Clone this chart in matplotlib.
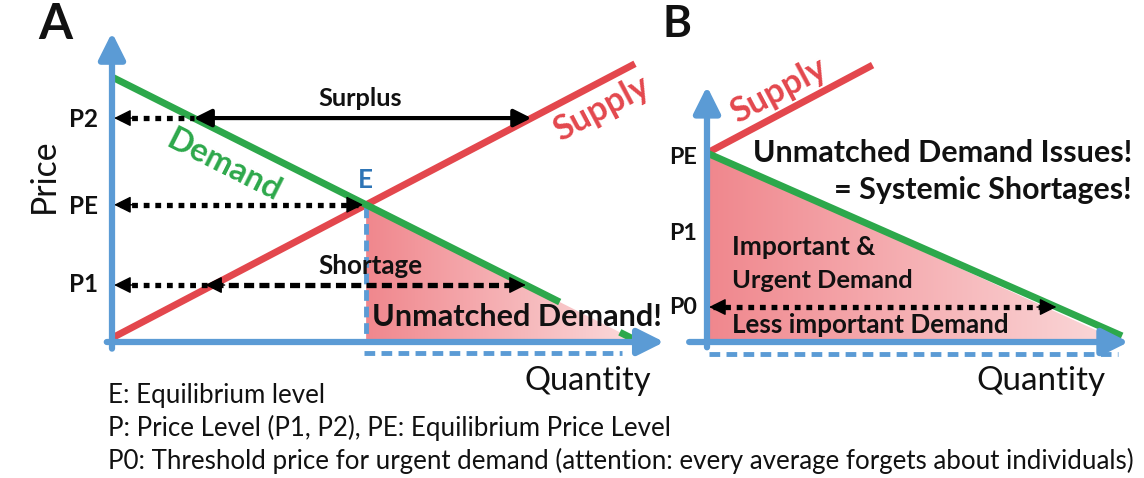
import matplotlib
matplotlib.use('Agg')
import matplotlib.pyplot as plt
import numpy as np
from matplotlib.patches import Polygon
from matplotlib.colors import LinearSegmentedColormap

# ---------------- data (conceptual units: quantity 0..100, price) ----------------
A_demand_q = [0, 100]
A_demand_p = [100, 0.8]
A_supply_q = [0, 100]
A_supply_p = [1.5, 105]
A_price_levels = {"P2": 84.5, "P1": 21.5}

B_demand_q = [0, 100]
B_demand_p = [71.3, 2.3]
B_supply_q = [0, 39.9]
B_supply_p = [71.3, 104.5]
B_price_levels = {"PE": 71.3, "P1": 41.1, "P0": 13.2}

notes = ["E: Equilibrium level",
         "P: Price Level (P1, P2), PE: Equilibrium Price Level",
         "P0: Threshold price for urgent demand (attention: every average forgets about individuals)"]

# ---------------- style ----------------
W, H = 1144, 478
BLUE = '#5B9BD5'
EBLUE = '#2E75B6'
GREEN = '#2DA84B'
RED = '#E3474D'
INK = '#111111'
PINK1, PINK2 = '#F0878D', '#FBDADB'
FONT = 'Lato'
plt.rcParams['font.family'] = [FONT, 'DejaVu Sans']

fig = plt.figure(figsize=(W / 100, H / 100), dpi=100)
renderer = fig.canvas.get_renderer()


def panel_ax(x0, y0, sx, sy):
    ax = fig.add_axes([0, 0, 1, 1])
    ax.axis('off')
    ax.set_autoscale_on(False)
    ax.set_xlim(-x0 / sx, (W - x0) / sx)
    ax.set_ylim(-(H - y0) / sy, y0 / sy)
    return ax


def line_at(qs, ps, q):
    return np.interp(q, qs, ps)


def q_at_price(qs, ps, p):
    qs, ps = np.asarray(qs, float), np.asarray(ps, float)
    o = np.argsort(ps)
    return np.interp(p, ps[o], qs[o])


def intersect(q1, p1, q2, p2):
    m1 = (p1[1] - p1[0]) / (q1[1] - q1[0]); b1 = p1[0] - m1 * q1[0]
    m2 = (p2[1] - p2[0]) / (q2[1] - q2[0]); b2 = p2[0] - m2 * q2[0]
    q = (b2 - b1) / (m1 - m2)
    return q, m1 * q + b1


def axis_arrow(ax, start, end):
    ax.annotate('', xy=end, xytext=start,
                arrowprops=dict(arrowstyle='-|>', mutation_scale=40, lw=4.5,
                                color=BLUE, shrinkA=0, shrinkB=0), zorder=4)


def head(ax, x, y, direction):
    ax.annotate('', xy=(x, y), xytext=(-direction * 14, 0), textcoords='offset points',
                arrowprops=dict(arrowstyle='-|>', mutation_scale=26, lw=1,
                                color='k', shrinkA=0, shrinkB=0), zorder=6)


def dotted(ax, x1, x2, y, style=(0, (1.1, 1.1))):
    ax.plot([x1, x2], [y, y], color='k', lw=3.8, ls=style,
            solid_capstyle='butt', dash_capstyle='butt', zorder=5)


def gradient_fill(ax, verts, c1, c2):
    verts = np.asarray(verts)
    cmap = LinearSegmentedColormap.from_list('pk', [c1, c2])
    grad = np.linspace(0, 1, 256).reshape(1, -1)
    im = ax.imshow(grad, extent=[verts[:, 0].min(), verts[:, 0].max(),
                                 verts[:, 1].min(), verts[:, 1].max()],
                   aspect='auto', cmap=cmap, origin='lower', zorder=1)
    poly = Polygon(verts, closed=True, transform=ax.transData, fc='none', ec='none')
    ax.add_patch(poly)
    im.set_clip_path(poly)


# ================= Panel A =================
axA = panel_ax(112, 342, 5.23, 2.65)
Eq, Ep = intersect(A_demand_q, A_demand_p, A_supply_q, A_supply_p)
gradient_fill(axA, [(Eq, Ep), (A_demand_q[-1], A_demand_p[-1]), (Eq, 0)], PINK1, PINK2)

axA.plot([Eq, Eq], [Ep - 1, 0], color=BLUE, lw=3.5, ls=(0, (2.2, 1.2)), zorder=3)
axA.plot([Eq - 0.5, 97.5], [-4.2, -4.2], color=BLUE, lw=3.5, ls=(0, (2.2, 1.3)), zorder=3)

# supply & demand
axA.plot(A_supply_q, A_supply_p, color=RED, lw=5, solid_capstyle='butt', zorder=2)
gap = (85.6, 97.1)
for lo, hi in [(A_demand_q[0], gap[0]), (gap[1], A_demand_q[-1])]:
    axA.plot([lo, hi], [line_at(A_demand_q, A_demand_p, lo), line_at(A_demand_q, A_demand_p, hi)],
             color=GREEN, lw=5, solid_capstyle='butt', zorder=3)

axis_arrow(axA, (0, -2.5), (0, 116.8))
axis_arrow(axA, (-1.0, 0), (105.6, 0))

# P2 surplus
p2 = A_price_levels["P2"]
qd2 = q_at_price(A_demand_q, A_demand_p, p2)
qs2 = q_at_price(A_supply_q, A_supply_p, p2)
dotted(axA, 1.5, qd2, p2)
head(axA, 0.4, p2, -1)
axA.annotate('', xy=(qs2, p2), xytext=(qd2, p2),
             arrowprops=dict(arrowstyle='<|-|>', mutation_scale=26, lw=3, color='k',
                             shrinkA=0, shrinkB=0), zorder=6)
# PE
dotted(axA, 1.5, Eq - 1.5, Ep)
head(axA, 0.4, Ep, -1)
head(axA, Eq - 0.6, Ep, 1)
# P1 shortage
p1 = A_price_levels["P1"]
qs1 = q_at_price(A_supply_q, A_supply_p, p1)
qd1 = q_at_price(A_demand_q, A_demand_p, p1)
dotted(axA, 1.5, qs1, p1)
head(axA, 0.4, p1, -1)
dotted(axA, qs1, qd1 - 1.5, p1, style=(0, (1.9, 1.0)))
head(axA, qs1 - 1.5, p1, -1)
head(axA, qd1, p1, 1)

# ================= Panel B =================
axB = panel_ax(707, 342, 4.15, 2.65)
gradient_fill(axB, [(0, B_demand_p[0]), (B_demand_q[-1], 0), (0, 0)], PINK1, PINK2)
axB.plot([0.5, 99], [-4.6, -4.6], color=BLUE, lw=3.5, ls=(0, (2.2, 1.3)), zorder=3)
axB.plot(B_supply_q, B_supply_p, color=RED, lw=5, solid_capstyle='butt', zorder=2)
axB.plot(B_demand_q, B_demand_p, color=GREEN, lw=5, solid_capstyle='butt', zorder=3)
axis_arrow(axB, (0, -2.0), (0, 96.5))
axis_arrow(axB, (-4.3, 0), (101.6, 0))
p0 = B_price_levels["P0"]
qd0 = q_at_price(B_demand_q, B_demand_p, p0)
dotted(axB, 1.5, qd0 - 1.5, p0)
head(axB, 0.5, p0, -1)
head(axB, qd0, p0, 1)

# ================= Texts (pixel-unit overlay axes, on top) =================
tax = fig.add_axes([0, 0, 1, 1])
tax.axis('off')
tax.set_xlim(0, W)
tax.set_ylim(H, 0)
tax.set_zorder(20)


def txt(s, x, y, width, ha='left', color=INK, weight='bold', rot=0, size=20):
    t = tax.text(x, y, s, ha=ha, va='center', color=color, fontweight=weight,
                 fontsize=size, rotation=0, rotation_mode='anchor', zorder=10)
    bb = t.get_window_extent(renderer)
    t.set_fontsize(size * width / bb.width)
    t.set_rotation(rot)
    return t


txt('A', 38, 24, 34, size=30)
txt('B', 662, 24, 29, size=30)

txt('Surplus', 318, 98, 84)
txt('Shortage', 318, 266, 104)
txt('Unmatched Demand!', 372, 317, 290)
txt('E', 358, 180, 15, color=EBLUE)

for lab, y in [('P2', 119), ('PE', 207), ('P1', 285)]:
    txt(lab, 98, y, 29, ha='right')
for lab, y in [('PE', 157), ('P1', 233), ('P0', 307)]:
    txt(lab, 697, y, 28, ha='right')

txt('Demand', 224, 165, 124, ha='center', color=GREEN, rot=-26.8)
txt('Supply', 602, 108, 104, ha='center', color=RED, rot=28)
txt('Supply', 779, 90, 104, ha='center', color=RED, rot=28)

txt('Price', 44, 176, 75, ha='center', weight='normal', rot=90)
txt('Quantity', 524, 381, 127, weight='normal')
txt('Quantity', 976, 381, 129, weight='normal')

txt('Unmatched Demand Issues!', 1132, 153, 379, ha='right')
txt('= Systemic Shortages!', 1132, 190, 297, ha='right')
txt('Important &', 732, 247, 143)
txt('Urgent Demand', 732, 280, 181)
txt('Less important Demand', 732, 325, 276)

# footnotes with a common size fitted to the longest line
t3 = txt(notes[2], 108, 461, 1027, weight='normal')
fs = t3.get_fontsize()
for s, y in [(notes[0], 395), (notes[1], 428)]:
    tax.text(108, y, s, ha='left', va='center', color=INK, fontsize=fs)

fig.savefig('out.png', dpi=100)
